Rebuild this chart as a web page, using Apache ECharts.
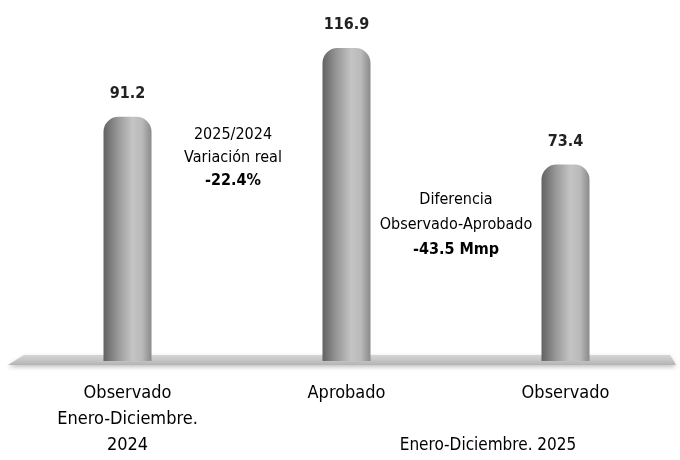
<!DOCTYPE html>
<html>
<head>
<meta charset="utf-8">
<script src="https://cdn.jsdelivr.net/npm/echarts@6/dist/echarts.min.js"></script>
<style>
  html, body { margin: 0; padding: 0; background: #fff; }
  #chart { width: 680px; height: 460px; }
</style>
</head>
<body>
<div id="chart"></div>
<script>
const categories = ["Observado\nEnero-Diciembre.\n2024", "Aprobado", "Observado"];
const values = [91.2, 116.9, 73.4];
const varNote = ["2025/2024", "Variación real", "-22.4%"];
const diffNote = ["Diferencia", "Observado-Aprobado", "-43.5 Mmp"];
const periodNote = "Enero-Diciembre. 2025";

const font = "'DejaVu Sans Condensed', 'Liberation Sans Narrow', sans-serif";

const chart = echarts.init(document.getElementById("chart"));

const barColor = new echarts.graphic.LinearGradient(0, 0, 1, 0, [
  {offset: 0, color: "#626262"},
  {offset: 0.3, color: "#989898"},
  {offset: 0.6, color: "#c4c4c4"},
  {offset: 0.8, color: "#bababa"},
  {offset: 1, color: "#8a8a8a"}
]);

// one text element per line, last line bold
function note(lines, x, ys, size) {
  return lines.map((t, i) => ({
    type: "text", x: x, y: ys[i], z: 10,
    style: {
      text: t, align: "center", verticalAlign: "middle", fontSize: size,
      fontWeight: i === lines.length - 1 ? "bold" : "normal",
      fontFamily: font, fill: "#000"
    }
  }));
}

const option = {
  animation: false,
  backgroundColor: "#fff",
  grid: {left: 18, right: 5, top: 13, bottom: 99},
  xAxis: {
    type: "category",
    data: categories,
    axisLine: {show: false},
    axisTick: {show: false},
    axisLabel: {margin: 19, fontSize: 18, lineHeight: 26, color: "#000", fontFamily: font}
  },
  yAxis: {type: "value", min: 0, max: 130, show: false, splitLine: {show: false}},
  graphic: [
    {
      type: "polygon", z: 0,
      shape: {points: [[24, 355], [670, 355], [676, 365], [8, 365]]},
      style: {
        fill: new echarts.graphic.LinearGradient(0, 0, 0, 1, [
          {offset: 0, color: "#d6d6d6"},
          {offset: 1, color: "#b4b4b4"}
        ]),
        shadowBlur: 4, shadowColor: "rgba(0,0,0,0.25)", shadowOffsetY: 2
      }
    },
    ...note(varNote, 233, [135, 158, 181], 16),
    ...note(diffNote, 456, [200, 225, 250], 16),
    {
      type: "text", x: 488, y: 446, z: 10,
      style: {text: periodNote, align: "center", verticalAlign: "middle", fontSize: 17, fontFamily: font, fill: "#000"}
    }
  ],
  series: [{
    type: "bar",
    data: values,
    barWidth: 48,
    z: 5,
    itemStyle: {color: barColor, borderRadius: [15, 15, 0, 0]},
    label: {
      show: true, position: "top", distance: 15,
      fontSize: 16, fontWeight: "bold", color: "#222", fontFamily: font,
      formatter: (p) => p.value.toFixed(1)
    }
  }]
};

chart.setOption(option);
</script>
</body>
</html>
